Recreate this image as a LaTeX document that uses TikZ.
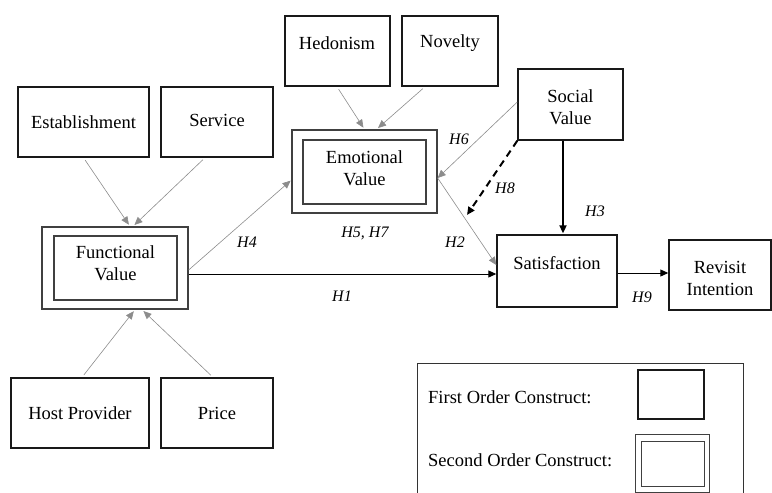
\documentclass[tikz,border=0pt]{standalone}
\usepackage{fontspec}
\setmainfont{Liberation Serif}
\newfontfamily\lserif{Liberation Serif}
\usetikzlibrary{arrows.meta}
\begin{document}
\begin{tikzpicture}[x=1pt,y=-1pt,
  box/.style={draw=black!90,line width=1.4pt,rectangle,inner sep=0pt,align=center,font=\lserif\fontsize{18.5}{22}\selectfont},
  obox/.style={draw=black!75,line width=1.3pt,rectangle,inner sep=0pt},
  ibox/.style={draw=black!75,line width=1.1pt,rectangle,inner sep=0pt,align=center,font=\lserif\fontsize{18.5}{22}\selectfont},
  txt/.style={inner sep=0pt,align=center,font=\lserif\fontsize{18.5}{22}\selectfont},
  hlab/.style={inner sep=0pt,font=\lserif\fontsize{16}{18}\selectfont\itshape},
  tip/.style={-{Triangle[length=8pt,width=7pt]}},
  thin/.style={tip,draw=black!45,line width=0.6pt,shorten <=3pt,shorten >=2pt},
  main/.style={tip,draw=black,line width=1pt}
]
\clip (0,0) rectangle (772,493);
% legend
\node[draw=black!80,line width=1pt,rectangle,inner sep=0pt,minimum width=326pt,minimum height=150pt] (leg) at (580,438) {};
\node[txt,anchor=west] (l1) at (428,397) {First Order Construct:};
\node[txt,anchor=west] (l2) at (428,460) {Second Order Construct:};
\node[box,minimum width=66pt,minimum height=49pt] (lb1) at (671,394.5) {};
\node[obox,line width=1pt,minimum width=74pt,minimum height=58pt] (lb2o) at (672,463) {};
\node[ibox,line width=1pt,minimum width=63pt,minimum height=45pt] (lb2i) at (672.5,463.5) {};
% first order boxes
\node[box,minimum width=131pt,minimum height=70pt] (est) at (83.5,122) {Establishment};
\node[box,minimum width=112pt,minimum height=70pt] (ser) at (217,122) {};
\node[txt] (serT) at (217,120) {Service};
\node[box,minimum width=105pt,minimum height=70pt] (hed) at (337.5,51) {};
\node[txt] (hedT) at (337,43) {Hedonism};
\node[box,minimum width=96pt,minimum height=70pt] (nov) at (450,51) {};
\node[txt] (novT) at (450,43) {Novelty};
\node[box,minimum width=105pt,minimum height=71pt] (soc) at (570.5,104.5) {};
\node[txt] (socT) at (570.5,107.5) {Social\\Value};
\node[box,minimum width=120pt,minimum height=72pt] (sat) at (557,271) {};
\node[txt] (satT) at (557,263) {Satisfaction};
\node[box,minimum width=102pt,minimum height=70pt] (rev) at (720,275) {};
\node[txt] (revT) at (720,278) {Revisit\\Intention};
\node[box,minimum width=138pt,minimum height=70pt] (hos) at (80,413) {Host Provider};
\node[box,minimum width=112pt,minimum height=70pt] (pri) at (217,413) {Price};
% second order boxes
\node[obox,minimum width=145pt,minimum height=83pt] (eo) at (364.5,171.5) {};
\node[ibox,minimum width=123pt,minimum height=64pt] (ei) at (364.5,172) {};
\node[txt] (eiT) at (364.5,168.5) {Emotional\\Value};
\node[obox,minimum width=146pt,minimum height=82pt] (fo) at (115,268) {};
\node[ibox,minimum width=123pt,minimum height=64pt] (fi) at (115.5,268) {};
\node[txt] (fiT) at (115.5,263.5) {Functional\\Value};
% connectors
\draw[thin] (est.south) -- ([xshift=15pt]fo.north);
\draw[thin] ([xshift=-12pt]ser.south) -- ([xshift=18pt]fo.north);
\draw[thin] ([xshift=-0.5pt]hed.south) -- (eo.north);
\draw[thin] ([xshift=-25pt]nov.south) -- ([xshift=12pt]eo.north);
\draw[thin] ([xshift=2pt]hos.north) -- ([xshift=20pt]fo.south);
\draw[thin] ([xshift=-4pt]pri.north) -- ([xshift=27pt]fo.south);
\draw[thin,shorten <=0pt,shorten >=1pt] ([yshift=-2pt]fo.east) -- ([yshift=-8.5pt]eo.west);
\draw[main] ([yshift=-6pt]fo.east) -- ([yshift=-3pt]sat.west);
\draw[thin,shorten <=0pt,shorten >=0pt] ([yshift=2.5pt]soc.west) -- ([yshift=-6.5pt]eo.east);
\draw[thin,shorten <=0pt,shorten >=0pt] ([yshift=-6.5pt]eo.east) -- ([yshift=6pt]sat.west);
\coordinate (h8end) at (467,215);
\draw[tip,line width=2pt,dash pattern=on 7pt off 5pt] (soc.south west) -- (h8end);
\draw[tip,line width=2.4pt,shorten >=1pt] ([xshift=-7.5pt]soc.south) -- ([xshift=6pt]sat.north);
\draw[main] ([yshift=-2pt]sat.east) -- ([yshift=2pt]rev.west);
% labels
\node[hlab] (h4) at (247,242) {H4};
\node[hlab] (h57) at (365,233) {H5, H7};
\node[hlab] (h6) at (459,139) {H6};
\node[hlab] (h8) at (505,188) {H8};
\node[hlab] (h3) at (595,211) {H3};
\node[hlab] (h2) at (455,242) {H2};
\node[hlab] (h1) at (342,296) {H1};
\node[hlab] (h9) at (642,297) {H9};
\end{tikzpicture}
\end{document}
